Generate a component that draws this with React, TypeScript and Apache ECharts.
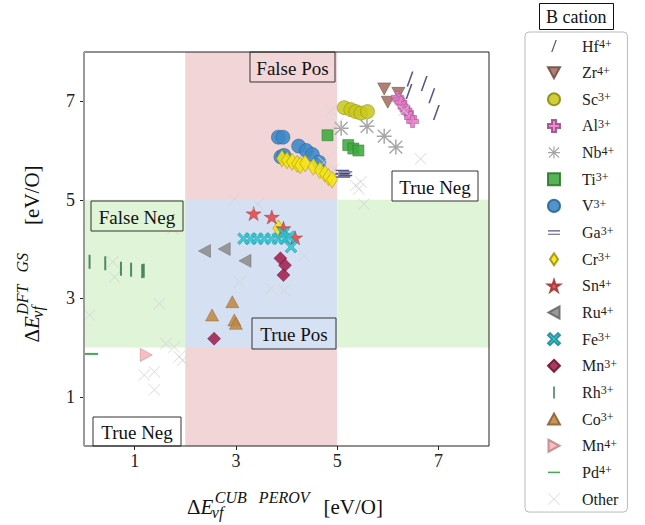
import React, { useEffect, useRef } from 'react';
import * as echarts from 'echarts';

const FF = 'Liberation Serif, Times New Roman, serif';

// axis
const xTicks = [1, 3, 5, 7];
const yTicks = [1, 3, 5, 7];
const axisMin = 0;
const axisMax = 8;
const lowCut = 2;
const highCut = 5;

// data [ΔE_CUB_PEROV, ΔE_DFT_GS]
const hf = [[6.44, 7.45], [6.72, 7.36], [6.87, 7.11], [6.96, 6.77], [6.42, 7.2]];
const zr = [[5.93, 7.25], [6.0, 6.98], [6.21, 7.16]];
const sc = [[5.14, 6.87], [5.27, 6.83], [5.37, 6.79], [5.47, 6.76], [5.6, 6.79]];
const al = [[6.19, 7.08], [6.22, 7.03], [6.26, 6.98], [6.32, 6.88], [6.36, 6.82], [6.39, 6.77], [6.45, 6.67], [6.49, 6.59]];
const nb = [[5.08, 6.45], [5.59, 6.49], [5.93, 6.29], [6.16, 6.07]];
const ti = [[4.81, 6.31], [5.22, 6.11], [5.32, 6.04], [5.42, 6.0]];
const v = [[3.84, 6.27], [3.93, 6.27], [3.89, 5.87], [3.95, 5.9], [4.24, 6.09], [4.39, 6.0], [4.51, 5.92], [4.64, 5.76]];
const ga = [[5.1, 5.56], [5.12, 5.5], [5.16, 5.53]];
const cr = [[3.91, 5.84], [4.01, 5.8], [4.11, 5.77], [4.21, 5.73], [4.27, 5.7], [4.37, 5.74], [4.53, 5.67], [4.66, 5.6], [4.76, 5.53], [4.83, 5.46], [4.9, 5.41], [3.84, 4.42]];
const sn = [[3.35, 4.72], [3.71, 4.65], [3.94, 4.42], [4.17, 4.23]];
const ru = [[2.38, 3.96], [2.77, 4.0], [3.18, 3.76]];
const fe = [[3.15, 4.21], [3.29, 4.21], [3.42, 4.21], [3.56, 4.21], [3.7, 4.21], [3.83, 4.21], [3.97, 4.21], [3.94, 4.32], [4.05, 4.25], [4.09, 4.04]];
const mn3 = [[3.88, 3.81], [3.97, 3.67], [3.94, 3.47], [2.57, 2.18]];
const rh = [[0.11, 3.74], [0.42, 3.71], [0.73, 3.6], [0.93, 3.58], [1.15, 3.55], [1.18, 3.56]];
const co = [[2.93, 2.93], [2.53, 2.66], [2.97, 2.56], [3.0, 2.49]];
const mn4 = [[1.23, 1.85]];
const pd = [[0.14, 1.87]];
const other = [
  [2.97, 5.02], [3.43, 4.91], [1.75, 4.41], [4.88, 6.81], [5.01, 6.54], [6.32, 6.81], [6.65, 5.83],
  [5.37, 5.29], [5.43, 5.22], [5.47, 5.36], [5.53, 4.91], [4.74, 5.76], [4.94, 5.62], [0.57, 3.74],
  [0.6, 3.43], [1.49, 2.89], [0.11, 2.66], [1.62, 2.08], [1.78, 2.01], [1.88, 1.81], [1.95, 1.74],
  [1.19, 1.44], [1.39, 1.51], [1.39, 1.14], [3.69, 3.2], [3.07, 3.33], [4.35, 3.87], [3.95, 3.16],
];

// symbols
const P_SLASH = 'path://M0,15L1.6,15L7,0L5.4,0Z';
const P_EQ = 'path://M0,0L14,0L14,1.4L0,1.4ZM0,4L14,4L14,5.4L0,5.4Z';
const P_VBAR = 'path://M0,0L2,0L2,14L0,14Z';
const P_HBAR = 'path://M0,0L14,0L14,1.8L0,1.8Z';
const P_PLUS = 'path://M4,0L8,0L8,4L12,4L12,8L8,8L8,12L4,12L4,8L0,8L0,4L4,4Z';
const P_FEX = 'path://M0,2L2,0L6,4L10,0L12,2L8,6L12,10L10,12L6,8L2,12L0,10L4,6Z';
const P_STAR = 'path://M10,0L12.25,6.91L19.51,6.91L13.63,11.18L15.88,18.09L10,13.82L4.12,18.09L6.37,11.18L0.49,6.91L7.75,6.91Z';
const P_AST = 'path://M5.4,0L6.6,0L6.6,12L5.4,12ZM0,5.4L12,5.4L12,6.6L0,6.6ZM1.3,0.5L11.5,10.7L10.7,11.5L0.5,1.3ZM10.7,0.5L11.5,1.3L1.3,11.5L0.5,10.7Z';
const P_THINX = 'path://M0,0.6L0.6,0L6,5.4L11.4,0L12,0.6L6.6,6L12,11.4L11.4,12L6,6.6L0.6,12L0,11.4L5.4,6Z';
const P_TRI_DOWN = 'path://M0,0L12,0L6,11Z';
const P_TRI_LEFT = 'path://M11,0L11,12L0,6Z';
const P_TRI_RIGHT = 'path://M0,0L11,6L0,12Z';
const P_TRI_UP = 'path://M6,0L12,11L0,11Z';
const P_THIN_DIAMOND = 'path://M6,0L12,9L6,18L0,9Z';
const P_DIAMOND = 'path://M6,0L12,6L6,12L0,6Z';

type Def = { name: string; data: number[][]; symbol: string; size: any; color: string; border?: string; bw?: number; opacity?: number };

const defs: Def[] = [
  { name: 'Hf4+', data: hf, symbol: P_SLASH, size: [7, 15], color: '#3d3d70' },
  { name: 'Zr4+', data: zr, symbol: P_TRI_DOWN, size: [13, 12], color: '#a56e64', border: '#6e4a42', bw: 0.6 },
  { name: 'Sc3+', data: sc, symbol: 'circle', size: 14, color: '#c8c81e', border: '#8a8a10', bw: 0.6 },
  { name: 'Al3+', data: al, symbol: P_PLUS, size: 12, color: '#e27fc8', border: '#a04888', bw: 0.6 },
  { name: 'Nb4+', data: nb, symbol: P_AST, size: 15, color: '#9a9a9a' },
  { name: 'Ti3+', data: ti, symbol: 'rect', size: 11, color: '#3faa3f', border: '#2a782a', bw: 0.6 },
  { name: 'V3+', data: v, symbol: 'circle', size: 14, color: '#3a86c6', border: '#2a6296', bw: 0.6 },
  { name: 'Ga3+', data: ga, symbol: P_EQ, size: [14, 5], color: '#3d3d70' },
  { name: 'Cr3+', data: cr, symbol: P_THIN_DIAMOND, size: [11, 17], color: '#f5e415', border: '#a09000', bw: 0.6 },
  { name: 'Sn4+', data: sn, symbol: P_STAR, size: [15, 14], color: '#e04848', border: '#a03030', bw: 0.5 },
  { name: 'Ru4+', data: ru, symbol: P_TRI_LEFT, size: [12, 13], color: '#8c8c8c', border: '#666', bw: 0.5 },
  { name: 'Fe3+', data: fe, symbol: P_FEX, size: 12, color: '#2fc4d2', border: '#1a8a96', bw: 0.5 },
  { name: 'Mn3+', data: mn3, symbol: P_DIAMOND, size: 13, color: '#a0204e', border: '#70102e', bw: 0.5 },
  { name: 'Rh3+', data: rh, symbol: P_VBAR, size: [2, 14], color: '#3a7a55' },
  { name: 'Co3+', data: co, symbol: P_TRI_UP, size: [13, 12], color: '#c08844', border: '#8a6030', bw: 0.5 },
  { name: 'Mn4+', data: mn4, symbol: P_TRI_RIGHT, size: [12, 13], color: '#f6b5b8', border: '#c08888', bw: 0.6 },
  { name: 'Pd4+', data: pd, symbol: P_HBAR, size: [14, 2], color: '#2e9a40' },
  { name: 'Other', data: other, symbol: P_THINX, size: 12, color: '#d4d4d4', opacity: 0.75 },
];

function measure(text: string, font: string) {
  const c = document.createElement('canvas').getContext('2d')!;
  c.font = font;
  return c.measureText(text).width;
}

function mathTitle(sup: string, sub: string, big: number, small: number, wordGap: number, unitGap: number) {
  const fR = `${big}px ${FF}`;
  const fI = `italic ${big}px ${FF}`;
  const fS = `italic ${small}px ${FF}`;
  const wD = measure('Δ', fR);
  const wE = measure('E', fI);
  const supX = wD + wE + 1.5;
  const subX = wD + wE - 1.5;
  const words = sup.split(' ');
  const supParts: { t: string; x: number }[] = [];
  let cx = supX;
  words.forEach((w, i) => {
    supParts.push({ t: w, x: cx });
    cx += measure(w, fS) + (i < words.length - 1 ? wordGap : 0);
  });
  const wSub = measure(sub, fS);
  const unitX = Math.max(cx, subX + wSub) + unitGap;
  const wU = measure('[eV/O]', fR);
  const o = -(unitX + wU) / 2;
  const mk = (text: string, x: number, y: number, font: string) => ({
    type: 'text',
    x: o + x,
    y,
    style: { text, font, fill: '#111', align: 'left', verticalAlign: 'middle' },
  });
  return [
    mk('Δ', 0, 0, fR),
    mk('E', wD, 0, fI),
    ...supParts.map((p) => mk(p.t, p.x, -9.5, fS)),
    mk(sub, subX, 5.5, fS),
    mk('[eV/O]', unitX, 0, fR),
  ];
}

function box(x: number, y: number, w: number, h: number, text: string, fill: string) {
  return [
    { type: 'rect', z: 100, silent: true, shape: { x, y, width: w, height: h }, style: { fill, stroke: '#333', lineWidth: 1 } },
    { type: 'text', z: 101, silent: true, x: x + w / 2, y: y + h / 2 + 1, style: { text, font: `19px ${FF}`, fill: '#111', align: 'center', verticalAlign: 'middle' } },
  ];
}

export default function App() {
  const ref = useRef<HTMLDivElement>(null);
  useEffect(() => {
    const chart = echarts.init(ref.current!, null, { renderer: 'svg' });
    const L = 84, T = 52, W = 405, H = 394;
    const series: any[] = [
      {
        type: 'scatter',
        name: 'regions',
        data: [],
        silent: true,
        markArea: {
          silent: true,
          data: [
            [{ xAxis: lowCut, yAxis: axisMin, itemStyle: { color: '#f2d5d7', opacity: 1 } }, { xAxis: highCut, yAxis: axisMax }],
            [{ xAxis: lowCut, yAxis: lowCut, itemStyle: { color: '#d5e0f3', opacity: 1 } }, { xAxis: highCut, yAxis: highCut }],
            [{ xAxis: axisMin, yAxis: lowCut, itemStyle: { color: '#e0f4d8', opacity: 1 } }, { xAxis: lowCut, yAxis: highCut }],
            [{ xAxis: highCut, yAxis: lowCut, itemStyle: { color: '#e0f4d8', opacity: 1 } }, { xAxis: axisMax, yAxis: highCut }],
          ],
        },
      },
      ...defs.map((d) => ({
        type: 'scatter',
        name: d.name,
        data: d.data,
        symbol: d.symbol,
        symbolSize: d.size,
        itemStyle: {
          color: d.color,
          borderColor: d.border || d.color,
          borderWidth: d.bw || 0,
          opacity: d.opacity ?? 0.88,
        },
        emphasis: { disabled: true },
      })),
    ];
    chart.setOption({
      animation: false,
      textStyle: { fontFamily: FF },
      title: {
        text: 'B cation',
        left: 539,
        top: 3,
        padding: [4, 7, 3, 7],
        borderColor: '#111',
        borderWidth: 1,
        textStyle: { fontFamily: FF, fontSize: 18, fontWeight: 'normal', color: '#111', lineHeight: 20 },
      },
      legend: {
        orient: 'vertical',
        left: 525,
        top: 32,
        padding: [6, 9, 5, 22],
        itemWidth: 12,
        itemHeight: 12,
        itemGap: 10.65,
        itemTextGap: 24,
        backgroundColor: '#fff',
        borderColor: '#bbb',
        borderWidth: 1,
        borderRadius: 4,
        data: defs.map((d) => d.name),
        formatter: (name: string) => {
          const m = name.match(/^(.*?)(\d\+)$/);
          return m ? `{b|${m[1]}}{sup|${m[2]}}` : `{b|${name}}`;
        },
        textStyle: {
          fontFamily: FF,
          fontSize: 16,
          lineHeight: 16,
          color: '#222',
          rich: {
            b: { fontFamily: FF, fontSize: 16, lineHeight: 16, color: '#222', padding: [0, 0, 0, 17] },
            sup: { fontFamily: FF, fontSize: 12, lineHeight: 8, verticalAlign: 'top', color: '#222' },
          },
        },
      },
      grid: { left: L, top: T, width: W, height: H },
      xAxis: {
        type: 'value',
        min: axisMin,
        max: axisMax,
        axisLine: { show: false },
        splitLine: { show: false },
        axisTick: { show: true, length: 4, customValues: xTicks, lineStyle: { color: '#222' } },
        axisLabel: { customValues: xTicks, fontFamily: FF, fontSize: 18, color: '#222', margin: 6 },
      },
      yAxis: {
        type: 'value',
        min: axisMin,
        max: axisMax,
        axisLine: { show: false },
        splitLine: { show: false },
        axisTick: { show: true, length: 4, customValues: yTicks, lineStyle: { color: '#222' } },
        axisLabel: { customValues: yTicks, fontFamily: FF, fontSize: 18, color: '#222', margin: 9 },
      },
      series,
      graphic: [
        { type: 'rect', z: 120, silent: true, shape: { x: L, y: T, width: W, height: H }, style: { fill: 'none', stroke: '#222', lineWidth: 1 } },
        { type: 'line', z: 121, silent: true, shape: { x1: L, y1: T, x2: L, y2: T + H }, style: { stroke: '#9a9a9a', lineWidth: 2 } },
        ...box(250, 52, 85, 30, 'False Pos', '#f3d6d8'),
        ...box(392, 171, 86, 30, 'True Neg', '#ffffff'),
        ...box(91, 201, 92, 30, 'False Neg', '#e0f5d8'),
        ...box(252, 318, 84, 31, 'True Pos', '#d6e1f4'),
        ...box(93, 417, 88, 29, 'True Neg', '#ffffff'),
        { type: 'group', x: 285, y: 507, silent: true, children: mathTitle('CUB PEROV', 'vf', 21, 16, 12, 14) },
        { type: 'group', x: 31.5, y: 254, rotation: Math.PI / 2, silent: true, children: mathTitle('DFT GS', 'vf', 21, 16, 12, 28) },
      ],
    });
    return () => chart.dispose();
  }, []);
  return <div ref={ref} style={{ position: 'absolute', left: 0, top: 0, width: 645, height: 525 }} />;
}
